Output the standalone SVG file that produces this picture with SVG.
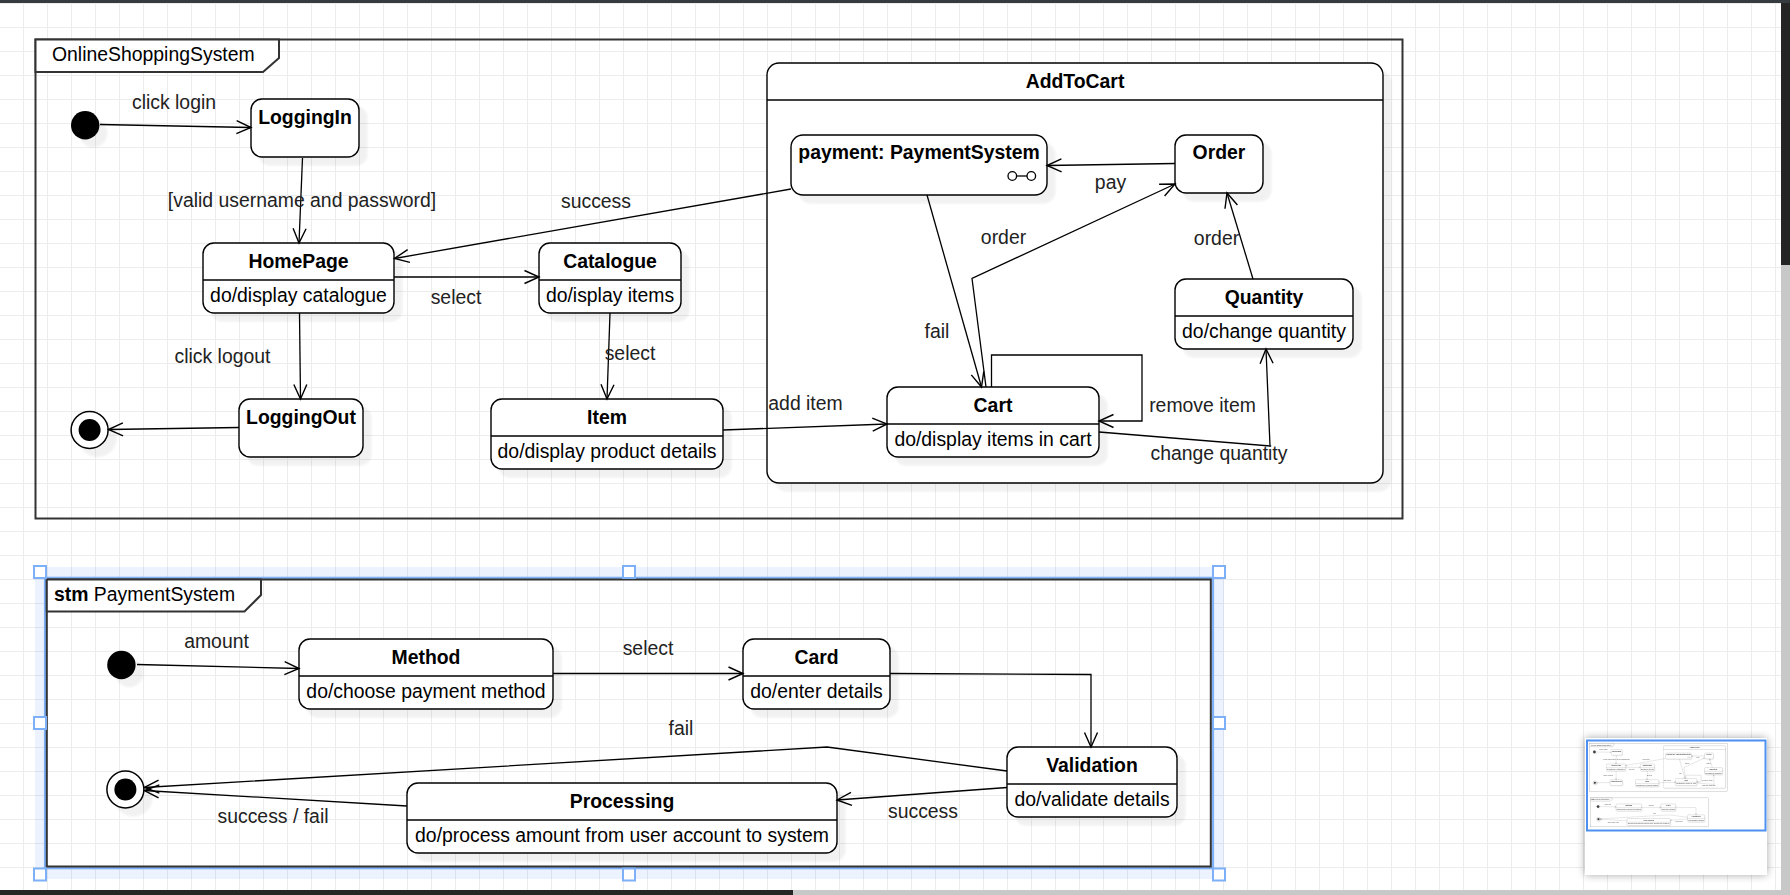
<svg xmlns="http://www.w3.org/2000/svg" xmlns:xlink="http://www.w3.org/1999/xlink" width="1790" height="895" viewBox="0 0 1790 895">
<style>
text{font-family:"Liberation Sans",Arial,Helvetica,sans-serif;font-size:19.4px;fill:#000}
.t{font-weight:bold;text-anchor:middle}
.b{text-anchor:middle}
.lbl{text-anchor:middle;fill:#222}
.st{fill:#fff;stroke:#000;stroke-width:1.4}
.dv{stroke:#000;stroke-width:1.4}
.fr{fill:none;stroke:#333;stroke-width:2}
.frl{fill:#fff;stroke:#333;stroke-width:2}
.e{fill:none;stroke:#000;stroke-width:1.3;marker-end:url(#arr)}
.h{fill:#fff;stroke:#7db0f6;stroke-width:2}
</style>
<defs>
<pattern id="grid" patternUnits="userSpaceOnUse" x="0" y="0" width="24" height="24">
<rect x="23" y="0" width="1" height="24" fill="#ececec"/>
<rect x="0" y="3" width="24" height="1" fill="#ececec"/>
</pattern>
<marker id="arr" markerUnits="userSpaceOnUse" markerWidth="20" markerHeight="16" refX="16" refY="8" orient="auto" overflow="visible">
<path d="M1.5,1.5 L16,8 L1.5,14.5" fill="none" stroke="#000" stroke-width="1.4"/>
</marker>
<filter id="sh" x="-20%" y="-20%" width="170%" height="170%" color-interpolation-filters="sRGB">
<feGaussianBlur in="SourceAlpha" stdDeviation="1.2" result="b"/>
<feOffset in="b" dx="8" dy="8" result="o"/>
<feComponentTransfer in="o" result="s"><feFuncA type="linear" slope="0.055"/></feComponentTransfer>
<feMerge><feMergeNode in="s"/><feMergeNode in="SourceGraphic"/></feMerge>
</filter>
<filter id="psh" x="-20%" y="-20%" width="140%" height="140%">
<feGaussianBlur in="SourceAlpha" stdDeviation="4" result="b"/>
<feComponentTransfer in="b" result="s"><feFuncA type="linear" slope="0.35"/></feComponentTransfer>
<feMerge><feMergeNode in="s"/><feMergeNode in="SourceGraphic"/></feMerge>
</filter>
</defs>

<rect x="0" y="0" width="1790" height="895" fill="#fff"/>
<rect x="0" y="3" width="1781" height="887" fill="url(#grid)"/>

<g id="selection">
<path d="M35,567 H1224 V879 H35 Z M46,579 V867 H1211 V579 Z" fill="#2f7ff0" fill-opacity="0.09" fill-rule="evenodd"/>
<rect x="45" y="577.8" width="1168" height="290.4" fill="none" stroke="#7db0f6" stroke-width="2.2"/>
</g>

<g id="content">
<g id="frame-OnlineShoppingSystem">
<rect class="fr" x="35.5" y="39.5" width="1367" height="479"/>
<path class="frl" d="M35.5,39.5 H279 V58 L263,72 H35.5 Z"/>
<text x="52" y="61">OnlineShoppingSystem</text>
</g>
<g id="frame-PaymentSystem">
<rect class="fr" x="46.8" y="579.5" width="1164" height="287"/>
<path class="frl" d="M46.8,579.5 H261 V595 L244.5,611.5 H46.8 Z"/>
<text x="54" y="601"><tspan font-weight="bold">stm</tspan> PaymentSystem</text>
</g>

<g id="node-AddToCart">
<rect class="st" x="767" y="63" width="616" height="420" rx="12" filter="url(#sh)"/>
<line class="dv" x1="767" y1="100" x2="1383" y2="100"/>
<text class="t" x="1075" y="88">AddToCart</text>
</g>

<g id="node-initial1">
<circle cx="85.2" cy="125.2" r="14.2" fill="#000" filter="url(#sh)"/>
</g>
<g id="node-LoggingIn">
<rect class="st" x="251" y="99" width="108" height="58" rx="11" filter="url(#sh)"/>
<text class="t" x="305" y="124">LoggingIn</text>
</g>
<g id="node-HomePage">
<rect class="st" x="203" y="243" width="191" height="70" rx="11" filter="url(#sh)"/>
<line class="dv" x1="203" y1="280" x2="394" y2="280"/>
<text class="t" x="298.5" y="267.5">HomePage</text>
<text class="b" x="298.5" y="302">do/display catalogue</text>
</g>
<g id="node-Catalogue">
<rect class="st" x="539" y="243" width="142" height="70" rx="11" filter="url(#sh)"/>
<line class="dv" x1="539" y1="280" x2="681" y2="280"/>
<text class="t" x="610" y="267.5">Catalogue</text>
<text class="b" x="610" y="302">do/isplay items</text>
</g>
<g id="node-LoggingOut">
<rect class="st" x="239" y="399" width="124" height="58" rx="11" filter="url(#sh)"/>
<text class="t" x="301" y="423.5">LoggingOut</text>
</g>
<g id="node-final1">
<circle cx="89.6" cy="430" r="18.5" fill="#fff" stroke="#000" stroke-width="1.5" filter="url(#sh)"/>
<circle cx="89.6" cy="430" r="11" fill="#000"/>
</g>
<g id="node-Item">
<rect class="st" x="491" y="399" width="232" height="70" rx="11" filter="url(#sh)"/>
<line class="dv" x1="491" y1="436" x2="723" y2="436"/>
<text class="t" x="607" y="423.5">Item</text>
<text class="b" x="607" y="458">do/display product details</text>
</g>
<g id="node-payment">
<rect class="st" x="791" y="135" width="256" height="60" rx="12" filter="url(#sh)"/>
<text class="t" x="919" y="159">payment: PaymentSystem</text>
<circle cx="1012.3" cy="176" r="4.3" fill="#fff" stroke="#000" stroke-width="1.3"/>
<circle cx="1031.3" cy="176" r="4.3" fill="#fff" stroke="#000" stroke-width="1.3"/>
<line x1="1016.6" y1="176" x2="1027" y2="176" stroke="#000" stroke-width="1.3"/>
</g>
<g id="node-Order">
<rect class="st" x="1175" y="135" width="88" height="58" rx="11" filter="url(#sh)"/>
<text class="t" x="1219" y="159">Order</text>
</g>
<g id="node-Quantity">
<rect class="st" x="1175" y="279" width="178" height="70" rx="11" filter="url(#sh)"/>
<line class="dv" x1="1175" y1="316" x2="1353" y2="316"/>
<text class="t" x="1264" y="303.5">Quantity</text>
<text class="b" x="1264" y="338">do/change quantity</text>
</g>
<g id="node-Cart">
<rect class="st" x="887" y="387" width="212" height="70" rx="11" filter="url(#sh)"/>
<line class="dv" x1="887" y1="424" x2="1099" y2="424"/>
<text class="t" x="993" y="411.5">Cart</text>
<text class="b" x="993" y="446">do/display items in cart</text>
</g>

<g id="node-initial2">
<circle cx="121.4" cy="665" r="14.2" fill="#000" filter="url(#sh)"/>
</g>
<g id="node-Method">
<rect class="st" x="299" y="639" width="254" height="70" rx="11" filter="url(#sh)"/>
<line class="dv" x1="299" y1="676" x2="553" y2="676"/>
<text class="t" x="426" y="663.5">Method</text>
<text class="b" x="426" y="698">do/choose payment method</text>
</g>
<g id="node-Card">
<rect class="st" x="743" y="639" width="147" height="70" rx="11" filter="url(#sh)"/>
<line class="dv" x1="743" y1="676" x2="890" y2="676"/>
<text class="t" x="816.5" y="663.5">Card</text>
<text class="b" x="816.5" y="698">do/enter details</text>
</g>
<g id="node-Validation">
<rect class="st" x="1007" y="747" width="170" height="70" rx="11" filter="url(#sh)"/>
<line class="dv" x1="1007" y1="784" x2="1177" y2="784"/>
<text class="t" x="1092" y="771.5">Validation</text>
<text class="b" x="1092" y="806">do/validate details</text>
</g>
<g id="node-Processing">
<rect class="st" x="407" y="783" width="430" height="70" rx="11" filter="url(#sh)"/>
<line class="dv" x1="407" y1="820" x2="837" y2="820"/>
<text class="t" x="622" y="807.5">Processing</text>
<text class="b" x="622" y="842">do/process amount from user account to system</text>
</g>
<g id="node-final2">
<circle cx="125.4" cy="789.5" r="18.5" fill="#fff" stroke="#000" stroke-width="1.5" filter="url(#sh)"/>
<circle cx="125.4" cy="789.5" r="11" fill="#000"/>
</g>

<g id="connectors">
<path class="e" d="M100,124.5 L251,127.5"/>
<text class="lbl" x="174" y="109">click login</text>
<path class="e" d="M302.5,158 L299,243"/>
<text class="lbl" x="302" y="207">[valid username and password]</text>
<path class="e" d="M791,189 L394.5,258.5"/>
<text class="lbl" x="596" y="208">success</text>
<path class="e" d="M394,277 L539,277"/>
<text class="lbl" x="456" y="304">select</text>
<path class="e" d="M610,313 L607,399"/>
<text class="lbl" x="630" y="360">select</text>
<path class="e" d="M299.5,313 L300.5,399"/>
<text class="lbl" x="222.5" y="363">click logout</text>
<path class="e" d="M239,427.5 L108.5,429.5"/>
<path class="e" d="M723,430 L887,424"/>
<text class="lbl" x="805.5" y="410">add item</text>
<path class="e" d="M1175,163.5 L1047,165.5"/>
<text class="lbl" x="1110.5" y="189">pay</text>
<path class="e" d="M927,195 L981.5,387"/>
<text class="lbl" x="937" y="338">fail</text>
<path class="e" d="M986,387 L972,278.5 L1175,184"/>
<text class="lbl" x="1003.5" y="244">order</text>
<path class="e" d="M1253,279 L1227,193"/>
<text class="lbl" x="1216.5" y="245">order</text>
<path class="e" d="M991.5,387 L991.5,355 L1142,355 L1142,421 L1099,421"/>
<text class="lbl" x="1202.5" y="411.5">remove item</text>
<path class="e" d="M1099,432 L1270,446 L1266,349"/>
<text class="lbl" x="1219" y="460">change quantity</text>

<path class="e" d="M137,664.5 L299,668.5"/>
<text class="lbl" x="216.5" y="648">amount</text>
<path class="e" d="M553,673.5 L743,673.5"/>
<text class="lbl" x="648" y="655">select</text>
<path class="e" d="M890,673.5 L1091,674.5 L1091,747"/>
<path class="e" d="M1007,787.5 L837,800"/>
<text class="lbl" x="923" y="818">success</text>
<path class="e" d="M1007,771 L827,747 L144.5,787.5"/>
<text class="lbl" x="681" y="735">fail</text>
<path class="e" d="M407,806 L144.5,790.5"/>
<text class="lbl" x="273" y="823">success / fail</text>
</g>
</g>

<g id="handles">
<rect class="h" x="34" y="566" width="12" height="12"/>
<rect class="h" x="623" y="566" width="12" height="12"/>
<rect class="h" x="1213" y="566" width="12" height="12"/>
<rect class="h" x="34" y="717" width="12" height="12"/>
<rect class="h" x="1213" y="717" width="12" height="12"/>
<rect class="h" x="34" y="868.5" width="12" height="12"/>
<rect class="h" x="623" y="868.5" width="12" height="12"/>
<rect class="h" x="1213" y="868.5" width="12" height="12"/>
</g>

<g id="minimap">
<rect x="1585" y="738" width="182" height="137" fill="#fff" filter="url(#psh)"/>
<use href="#content" xlink:href="#content" transform="translate(1585.8,739.4) scale(0.101)" opacity="0.75"/>
<rect x="1587" y="740.5" width="178.5" height="90" fill="none" stroke="#4d90f0" stroke-width="2"/>
</g>

<g id="chrome">
<rect x="0" y="0" width="1790" height="3" fill="#353b3f"/>
<rect x="1781" y="3" width="9" height="262" fill="#252525"/>
<rect x="1781" y="265" width="9" height="630" fill="#c8c8c8"/>
<rect x="0" y="890" width="793" height="5" fill="#252525"/>
<rect x="793" y="890" width="988" height="5" fill="#c8c8c8"/>
</g>
</svg>
